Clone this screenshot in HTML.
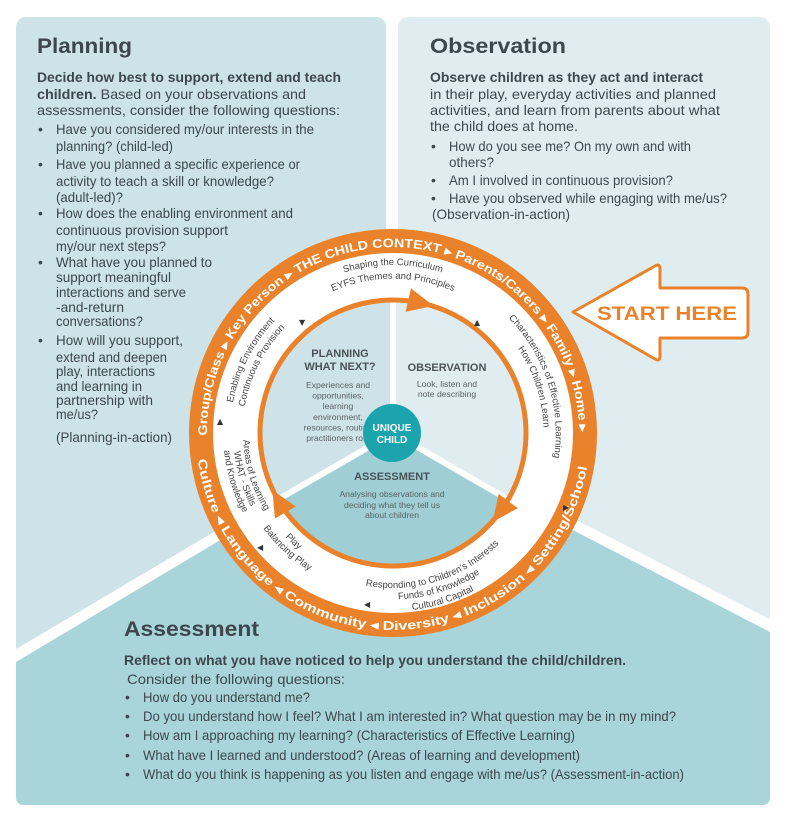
<!DOCTYPE html>
<html><head><meta charset="utf-8"><style>
html,body{margin:0;padding:0;background:#fff;}
svg{display:block;}
.t{font-family:"Liberation Sans Narrow","Liberation Sans",sans-serif;fill:#3c484d;font-size:14px;}
.b{font-weight:bold;}
.h{font-family:"Liberation Sans",sans-serif;font-weight:bold;font-size:21px;fill:#3c484d;}
.r{font-family:"Liberation Sans",sans-serif;font-weight:bold;font-size:12.5px;fill:#fff;}
.w{font-family:"Liberation Sans",sans-serif;font-size:9.5px;fill:#444;}
.c{font-family:"Liberation Sans",sans-serif;font-size:8.6px;fill:#5a6266;text-anchor:middle;}
.ch{font-family:"Liberation Sans",sans-serif;font-weight:bold;font-size:11px;fill:#4a5358;text-anchor:middle;}
.tri{font-family:"DejaVu Sans",sans-serif;font-size:8px;fill:#333;}
</style></head><body>
<svg width="800" height="836" viewBox="0 0 800 836" xmlns="http://www.w3.org/2000/svg">
<defs>
<path id="up" d="M207.1,439.5 A186,186 0 1 1 578.3,449.2"/>
<path id="low" d="M197.1,453.6 A197,197 0 0 0 588.1,460.4"/>
</defs>
<rect x="16" y="17" width="370" height="650" rx="10" fill="#cde3e7"/>
<rect x="398" y="17" width="372" height="620" rx="10" fill="#dfedf1"/>
<polyline points="6,662 393,433 780,631" fill="none" stroke="#fff" stroke-width="12"/>
<path d="M16,662 L393,437 L770,632 L770,797 Q770,805 762,805 L24,805 Q16,805 16,797 Z" fill="#a9d4d9"/>

<text class="h" x="37" y="53" textLength="95" lengthAdjust="spacingAndGlyphs">Planning</text>
<text class="t b" x="37" y="82" textLength="304" lengthAdjust="spacingAndGlyphs">Decide how best to support, extend and teach</text>
<text class="t" x="37" y="99" textLength="269" lengthAdjust="spacingAndGlyphs"><tspan class="b">children.</tspan> Based on your observations and</text>
<text class="t" x="37" y="115" textLength="303" lengthAdjust="spacingAndGlyphs">assessments, consider the following questions:</text>
<g class="t">
<text x="38" y="134">•</text><text x="56" y="134" textLength="258" lengthAdjust="spacingAndGlyphs">Have you considered my/our interests in the</text>
<text x="56" y="151" textLength="117" lengthAdjust="spacingAndGlyphs">planning? (child-led)</text>
<text x="38" y="169">•</text><text x="56" y="169" textLength="244" lengthAdjust="spacingAndGlyphs">Have you planned a specific experience or</text>
<text x="56" y="186" textLength="218" lengthAdjust="spacingAndGlyphs">activity to teach a skill or knowledge?</text>
<text x="56" y="202" textLength="67" lengthAdjust="spacingAndGlyphs">(adult-led)?</text>
<text x="38" y="218">•</text><text x="56" y="218" textLength="237" lengthAdjust="spacingAndGlyphs">How does the enabling environment and</text>
<text x="56" y="235" textLength="172" lengthAdjust="spacingAndGlyphs">continuous provision support</text>
<text x="56" y="251" textLength="110" lengthAdjust="spacingAndGlyphs">my/our next steps?</text>
<text x="38" y="267">•</text><text x="56" y="267" textLength="156" lengthAdjust="spacingAndGlyphs">What have you  planned to</text>
<text x="56" y="282" textLength="115" lengthAdjust="spacingAndGlyphs">support meaningful</text>
<text x="56" y="297" textLength="130" lengthAdjust="spacingAndGlyphs">interactions and serve</text>
<text x="56" y="312" textLength="68" lengthAdjust="spacingAndGlyphs">-and-return</text>
<text x="56" y="326" textLength="87" lengthAdjust="spacingAndGlyphs">conversations?</text>
<text x="38" y="345">•</text><text x="56" y="345" textLength="127" lengthAdjust="spacingAndGlyphs">How will you support,</text>
<text x="56" y="362" textLength="111" lengthAdjust="spacingAndGlyphs">extend and deepen</text>
<text x="56" y="376" textLength="99" lengthAdjust="spacingAndGlyphs">play, interactions</text>
<text x="56" y="391" textLength="86" lengthAdjust="spacingAndGlyphs">and learning in</text>
<text x="56" y="405" textLength="97" lengthAdjust="spacingAndGlyphs">partnership with</text>
<text x="56" y="419" textLength="42" lengthAdjust="spacingAndGlyphs">me/us?</text>
<text x="56" y="442" textLength="116" lengthAdjust="spacingAndGlyphs">(Planning-in-action)</text>
</g>

<text class="h" x="430" y="53" textLength="136" lengthAdjust="spacingAndGlyphs">Observation</text>
<text class="t b" x="430" y="82" textLength="273" lengthAdjust="spacingAndGlyphs">Observe children as they act and interact</text>
<g class="t">
<text x="430" y="99" textLength="286" lengthAdjust="spacingAndGlyphs">in their play, everyday activities and planned</text>
<text x="430" y="115" textLength="290" lengthAdjust="spacingAndGlyphs">activities, and learn from parents about what</text>
<text x="430" y="131" textLength="148" lengthAdjust="spacingAndGlyphs">the child does at home.</text>
<text x="431" y="151">•</text><text x="449" y="151" textLength="242" lengthAdjust="spacingAndGlyphs">How do you see me? On my own and with</text>
<text x="449" y="167" textLength="45" lengthAdjust="spacingAndGlyphs">others?</text>
<text x="431" y="185">•</text><text x="449" y="185" textLength="224" lengthAdjust="spacingAndGlyphs">Am I involved in continuous provision?</text>
<text x="431" y="203">•</text><text x="449" y="203" textLength="278" lengthAdjust="spacingAndGlyphs">Have you observed while engaging  with me/us?</text>
<text x="432" y="219" textLength="138" lengthAdjust="spacingAndGlyphs">(Observation-in-action)</text>
</g>

<text class="h" x="124" y="636" textLength="135" lengthAdjust="spacingAndGlyphs">Assessment</text>
<text class="t b" x="124" y="665" textLength="502" lengthAdjust="spacingAndGlyphs">Reflect on what you have noticed to help you understand the child/children.</text>
<g class="t">
<text x="127" y="684" textLength="218" lengthAdjust="spacingAndGlyphs">Consider the following questions:</text>
<text x="125" y="702">•</text><text x="143" y="702" textLength="167" lengthAdjust="spacingAndGlyphs">How do you understand me?</text>
<text x="125" y="721">•</text><text x="143" y="721" textLength="533" lengthAdjust="spacingAndGlyphs">Do you understand how I feel?  What I am interested in? What question may be in my mind?</text>
<text x="125" y="740">•</text><text x="143" y="740" textLength="432" lengthAdjust="spacingAndGlyphs">How am I approaching my learning? (Characteristics of Effective Learning)</text>
<text x="125" y="760">•</text><text x="143" y="760" textLength="437" lengthAdjust="spacingAndGlyphs">What have I learned and understood?  (Areas of learning and development)</text>
<text x="125" y="779">•</text><text x="143" y="779" textLength="541" lengthAdjust="spacingAndGlyphs">What do you think is happening as you listen and engage with me/us? (Assessment-in-action)</text>
</g>

<circle cx="393" cy="433" r="204" fill="#e9822b"/>
<circle cx="393" cy="433" r="180" fill="#fff"/>
<path d="M393,433 L279.6,498.5 A131,131 0 0 1 393,302 Z" fill="#cde3e7"/>
<path d="M393,433 L393,302 A131,131 0 0 1 506.4,498.5 Z" fill="#dfedf1"/>
<path d="M393,433 L506.4,498.5 A131,131 0 0 1 279.6,498.5 Z" fill="#9fcfd4"/>
<g stroke="#fff" stroke-width="6">
<line x1="393" y1="433" x2="393" y2="302"/>
<line x1="393" y1="433" x2="279.6" y2="498.5"/>
<line x1="393" y1="433" x2="506.4" y2="498.5"/>
</g>
<circle cx="393" cy="433" r="133" fill="none" stroke="#e9822b" stroke-width="5"/>
<g fill="#e9822b">
<polygon points="514,418 538,418 526,444" transform="rotate(283 393 433)"/>
<polygon points="514,418 538,418 526,444" transform="rotate(37 393 433)"/>
<polygon points="514,418 538,418 526,444" transform="rotate(150 393 433)"/>
</g>

<text class="r"><textPath href="#up" startOffset="4" textLength="585" lengthAdjust="spacingAndGlyphs">Group/Class ▸ Key Person ▸ THE CHILD CONTEXT ▸ Parents/Carers ▸ Family ▸ Home ▸</textPath></text>
<text class="r"><textPath href="#low" startOffset="6" textLength="558" lengthAdjust="spacingAndGlyphs">Culture ◂ Language ◂ Community ◂ Diversity ◂ Inclusion ◂ Setting/School</textPath></text>

<path id="p1a" d="M249.7,350.3 A163,163 0 0 1 536.3,350.3" fill="none"/>
<path id="p1b" d="M260.1,358 A151,151 0 0 1 525.9,358" fill="none"/>
<text class="w"><textPath href="#p1a" startOffset="50%" text-anchor="middle">Shaping the Curriculum</textPath></text>
<text class="w"><textPath href="#p1b" startOffset="50%" text-anchor="middle">EYFS Themes and Principles</textPath></text>

<path id="p2a" d="M422.4,272.7 A163,163 0 0 1 510.9,545.2" fill="none"/>
<path id="p2b" d="M420.2,284.5 A151,151 0 0 1 502.2,536.9" fill="none"/>
<text class="w"><textPath href="#p2a" startOffset="50%" text-anchor="middle">Characteristics of Effective Learning</textPath></text>
<text class="w"><textPath href="#p2b" startOffset="50%" text-anchor="middle">How Children Learn</textPath></text>

<path id="p3a" d="M274.2,530.1 A150,150 0 0 0 542.4,446.1" fill="none"/>
<path id="p3b" d="M265.5,537.1 A161,161 0 0 0 553.4,447.0" fill="none"/>
<path id="p3c" d="M256.7,544.4 A172,172 0 0 0 564.4,448.0" fill="none"/>
<text class="w"><textPath href="#p3a" startOffset="50%" text-anchor="middle">Responding to Children’s Interests</textPath></text>
<text class="w"><textPath href="#p3b" startOffset="50%" text-anchor="middle">Funds of Knowledge</textPath></text>
<text class="w"><textPath href="#p3c" startOffset="50%" text-anchor="middle">Cultural Capital</textPath></text>

<path id="p4a" d="M244.6,453.9 A150,150 0 0 0 385.1,582.8" fill="none"/>
<path id="p4b" d="M233.6,455.4 A161,161 0 0 0 384.6,593.8" fill="none"/>
<text class="w"><textPath href="#p4a" startOffset="50%" text-anchor="middle">Play</textPath></text>
<text class="w"><textPath href="#p4b" startOffset="50%" text-anchor="middle">Balancing Play</textPath></text>

<path id="p5a" d="M283.3,330.7 A150,150 0 0 0 359.3,579.1" fill="none"/>
<path id="p5b" d="M276.0,323.9 A160,160 0 0 0 357.0,588.9" fill="none"/>
<path id="p5c" d="M268.7,317.1 A170,170 0 0 0 354.8,598.6" fill="none"/>
<text class="w"><textPath href="#p5a" startOffset="50%" text-anchor="middle">Areas of Learning</textPath></text>
<text class="w"><textPath href="#p5b" startOffset="50%" text-anchor="middle">WHAT - Skills</textPath></text>
<text class="w"><textPath href="#p5c" startOffset="50%" text-anchor="middle">and Knowledge</textPath></text>

<path id="p6a" d="M246.3,503.9 A163,163 0 0 1 364.7,272.5" fill="none"/>
<path id="p6b" d="M257.4,498.5 A151,151 0 0 1 366.8,284.3" fill="none"/>
<text class="w"><textPath href="#p6a" startOffset="50%" text-anchor="middle">Enabling Environment</textPath></text>
<text class="w"><textPath href="#p6b" startOffset="50%" text-anchor="middle">Continuous Provision</textPath></text>

<text class="tri" x="299" y="325">▼</text>
<text class="tri" x="474" y="325">▲</text>
<text class="tri" x="217" y="424">▲</text>
<text class="tri" x="563" y="510">▶</text>
<text class="tri" x="257" y="550">◀</text>
<text class="tri" x="364" y="607">◀</text>

<text class="ch" x="340" y="357">PLANNING</text>
<text class="ch" x="340" y="370">WHAT NEXT?</text>
<g class="c">
<text x="338" y="388">Experiences and</text>
<text x="338" y="398.6">opportunities,</text>
<text x="338" y="409.2">learning</text>
<text x="338" y="419.8">environment,</text>
<text x="338" y="430.4">resources, routine</text>
<text x="338" y="441">practitioners role</text>
</g>
<text class="ch" x="447" y="371">OBSERVATION</text>
<g class="c">
<text x="447" y="387">Look, listen and</text>
<text x="447" y="397">note describing</text>
</g>
<text class="ch" x="392" y="480">ASSESSMENT</text>
<g class="c">
<text x="392" y="497">Analysing observations and</text>
<text x="392" y="508">deciding what they tell us</text>
<text x="392" y="518">about children</text>
</g>
<circle cx="392" cy="433" r="29" fill="#1ba3ae"/>
<text x="392" y="431" font-family="Liberation Sans, sans-serif" font-weight="bold" font-size="10" fill="#fff" text-anchor="middle">UNIQUE</text>
<text x="392" y="443" font-family="Liberation Sans, sans-serif" font-weight="bold" font-size="10" fill="#fff" text-anchor="middle">CHILD</text>

<path d="M573,312 L655,266 Q660,263 660,269 L660,288 L742,288 Q748,288 748,294 L748,332 Q748,338 742,338 L660,338 L660,356 Q660,362 655,359 Z" fill="#fff" stroke="#e9822b" stroke-width="3" stroke-linejoin="round"/>
<text x="597" y="320" font-family="Liberation Sans, sans-serif" font-weight="bold" font-size="19" fill="#e9822b" textLength="140" lengthAdjust="spacingAndGlyphs">START HERE</text>
</svg>
</body></html>
